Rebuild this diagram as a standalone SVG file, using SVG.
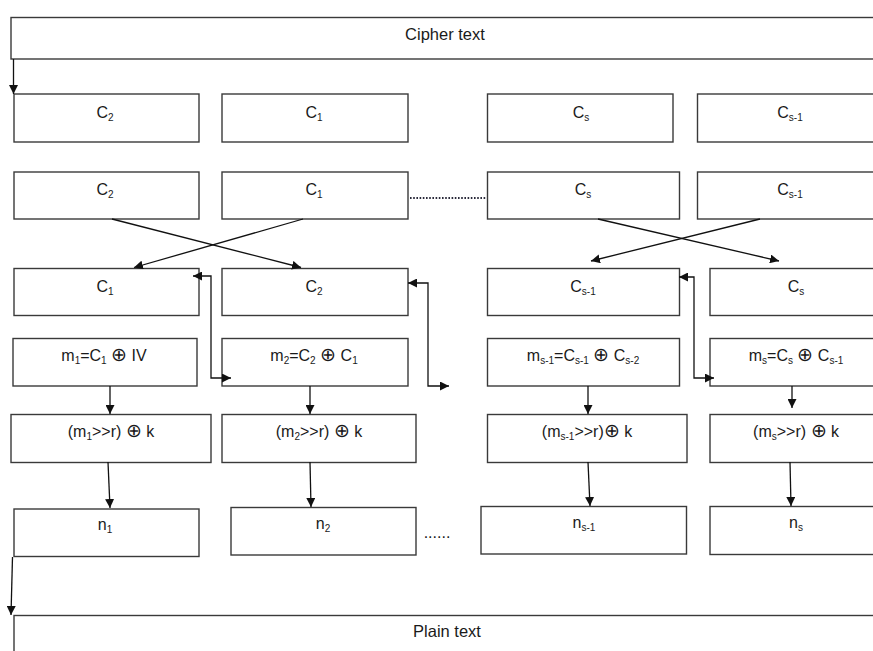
<svg xmlns="http://www.w3.org/2000/svg" width="873" height="651" viewBox="0 0 873 651">
<style>
.b{fill:#fff;stroke:#3a3a3a;stroke-width:1.4}
.t{font-family:"Liberation Sans",Arial,sans-serif;font-size:16px;fill:#1a1a1a;text-anchor:middle}
.big{font-size:16.5px}
.s{font-size:10px}
.x{font-family:"DejaVu Sans",sans-serif;font-size:19px;font-weight:200}
.c{fill:none;stroke:#111;stroke-width:1.3}
.d{fill:none;stroke:#2a2a3a;stroke-width:2;stroke-dasharray:1.6,1.6}
</style>
<defs>
<marker id="ah" viewBox="0 0 10 10" refX="10" refY="5" markerWidth="9" markerHeight="9" markerUnits="userSpaceOnUse" orient="auto-start-reverse">
<path d="M0,0 L10,5 L0,10 z" fill="#111"/>
</marker>
</defs>
<rect width="873" height="651" fill="#fff"/>

<g id="cipher"><rect class="b" x="11" y="17.5" width="870" height="41.5"/><text class="t big" x="445" y="40">Cipher text</text></g>
<g id="plain"><rect class="b" x="14" y="615.5" width="867" height="60"/><text class="t big" x="447" y="637">Plain text</text></g>

<g id="r1c2"><rect class="b" x="14" y="94" width="185" height="48"/><text class="t" x="105" y="118">C<tspan class="s" dy="3">2</tspan></text></g>
<g id="r1c1"><rect class="b" x="222" y="94" width="186" height="48"/><text class="t" x="314" y="118">C<tspan class="s" dy="3">1</tspan></text></g>
<g id="r1cs"><rect class="b" x="487.5" y="94" width="185.5" height="48"/><text class="t" x="581" y="118">C<tspan class="s" dy="3">s</tspan></text></g>
<g id="r1cs1"><rect class="b" x="697.5" y="94" width="185" height="48"/><text class="t" x="790" y="118">C<tspan class="s" dy="3">s-1</tspan></text></g>

<g id="r2c2"><rect class="b" x="14" y="172" width="185" height="47"/><text class="t" x="105" y="195">C<tspan class="s" dy="3">2</tspan></text></g>
<g id="r2c1"><rect class="b" x="222" y="172" width="186" height="47"/><text class="t" x="314" y="195">C<tspan class="s" dy="3">1</tspan></text></g>
<g id="r2cs"><rect class="b" x="487.5" y="172" width="192" height="47"/><text class="t" x="583" y="195">C<tspan class="s" dy="3">s</tspan></text></g>
<g id="r2cs1"><rect class="b" x="697.5" y="172" width="185" height="47"/><text class="t" x="790" y="195">C<tspan class="s" dy="3">s-1</tspan></text></g>

<g id="r3c1"><rect class="b" x="14" y="268.5" width="185" height="47"/><text class="t" x="105" y="292">C<tspan class="s" dy="3">1</tspan></text></g>
<g id="r3c2"><rect class="b" x="222" y="268.5" width="186" height="47"/><text class="t" x="314" y="292">C<tspan class="s" dy="3">2</tspan></text></g>
<g id="r3cs1"><rect class="b" x="487.5" y="268.5" width="192" height="47"/><text class="t" x="583" y="292">C<tspan class="s" dy="3">s-1</tspan></text></g>
<g id="r3cs"><rect class="b" x="710" y="268.5" width="172" height="47"/><text class="t" x="796" y="292">C<tspan class="s" dy="3">s</tspan></text></g>

<g id="m1"><rect class="b" x="13" y="338.5" width="184" height="47.5"/><text class="t" x="104" y="361">m<tspan class="s" dy="3">1</tspan><tspan dy="-3">=C</tspan><tspan class="s" dy="3">1</tspan><tspan dy="-3"> </tspan><tspan class="x">⊕</tspan> IV</text></g>
<g id="m2"><rect class="b" x="222" y="338.5" width="186" height="47.5"/><text class="t" x="314" y="361">m<tspan class="s" dy="3">2</tspan><tspan dy="-3">=C</tspan><tspan class="s" dy="3">2</tspan><tspan dy="-3"> </tspan><tspan class="x">⊕</tspan> C<tspan class="s" dy="3">1</tspan></text></g>
<g id="ms1"><rect class="b" x="487.5" y="338.5" width="192" height="47.5"/><text class="t" x="583" y="361">m<tspan class="s" dy="3">s-1</tspan><tspan dy="-3">=C</tspan><tspan class="s" dy="3">s-1</tspan><tspan dy="-3"> </tspan><tspan class="x">⊕</tspan> C<tspan class="s" dy="3">s-2</tspan></text></g>
<g id="ms"><rect class="b" x="710" y="338.5" width="172" height="47.5"/><text class="t" x="796" y="361">m<tspan class="s" dy="3">s</tspan><tspan dy="-3">=C</tspan><tspan class="s" dy="3">s</tspan><tspan dy="-3"> </tspan><tspan class="x">⊕</tspan> C<tspan class="s" dy="3">s-1</tspan></text></g>

<g id="k1"><rect class="b" x="11" y="414.5" width="200" height="48"/><text class="t" x="111" y="437">(m<tspan class="s" dy="3">1</tspan><tspan dy="-3">&gt;&gt;r) </tspan><tspan class="x">⊕</tspan> k</text></g>
<g id="k2"><rect class="b" x="222" y="414.5" width="194" height="48"/><text class="t" x="319" y="437">(m<tspan class="s" dy="3">2</tspan><tspan dy="-3">&gt;&gt;r) </tspan><tspan class="x">⊕</tspan> k</text></g>
<g id="ks1"><rect class="b" x="487.5" y="414.5" width="199.5" height="48"/><text class="t" x="587" y="437">(m<tspan class="s" dy="3">s-1</tspan><tspan dy="-3">&gt;&gt;r)</tspan><tspan class="x">⊕</tspan> k</text></g>
<g id="ks"><rect class="b" x="710" y="414.5" width="172" height="48"/><text class="t" x="796" y="437">(m<tspan class="s" dy="3">s</tspan><tspan dy="-3">&gt;&gt;r) </tspan><tspan class="x">⊕</tspan> k</text></g>

<g id="n1"><rect class="b" x="14" y="509" width="185" height="47.5"/><text class="t" x="105" y="530">n<tspan class="s" dy="3">1</tspan></text></g>
<g id="n2"><rect class="b" x="231" y="507.5" width="185" height="47.5"/><text class="t" x="323" y="529">n<tspan class="s" dy="3">2</tspan></text></g>
<g id="ns1"><rect class="b" x="481" y="506.5" width="205.5" height="47.5"/><text class="t" x="584" y="528">n<tspan class="s" dy="3">s-1</tspan></text></g>
<g id="ns"><rect class="b" x="710" y="506.5" width="172" height="48"/><text class="t" x="796" y="528">n<tspan class="s" dy="3">s</tspan></text></g>

<g id="connectors">
<path class="c" d="M13.5,59 V94" marker-end="url(#ah)"/>
<path class="d" d="M410,198 H486"/>
<path class="c" d="M112,219 L301,267.5" marker-end="url(#ah)"/>
<path class="c" d="M303,219 L134,267.5" marker-end="url(#ah)"/>
<path class="c" d="M598,219 L779,261" marker-end="url(#ah)"/>
<path class="c" d="M760,219 L591,261" marker-end="url(#ah)"/>
<path class="c" d="M193,276 H211 V378 H231" marker-start="url(#ah)" marker-end="url(#ah)"/>
<path class="c" d="M408,283 H428 V386 H449" marker-start="url(#ah)" marker-end="url(#ah)"/>
<path class="c" d="M679,277 H694 V378 H714" marker-start="url(#ah)" marker-end="url(#ah)"/>
<path class="c" d="M110,386 V414" marker-end="url(#ah)"/>
<path class="c" d="M310,386 V414" marker-end="url(#ah)"/>
<path class="c" d="M588,386 V414" marker-end="url(#ah)"/>
<path class="c" d="M792,386 V408" marker-end="url(#ah)"/>
<path class="c" d="M108,462 L110,508" marker-end="url(#ah)"/>
<path class="c" d="M310,462 L311,507" marker-end="url(#ah)"/>
<path class="c" d="M588,462 L590,506" marker-end="url(#ah)"/>
<path class="c" d="M790,462 L791,506" marker-end="url(#ah)"/>
<path class="c" d="M12.5,557 L11,615" marker-end="url(#ah)"/>
</g>
<text class="t" x="437" y="538">......</text>
</svg>
